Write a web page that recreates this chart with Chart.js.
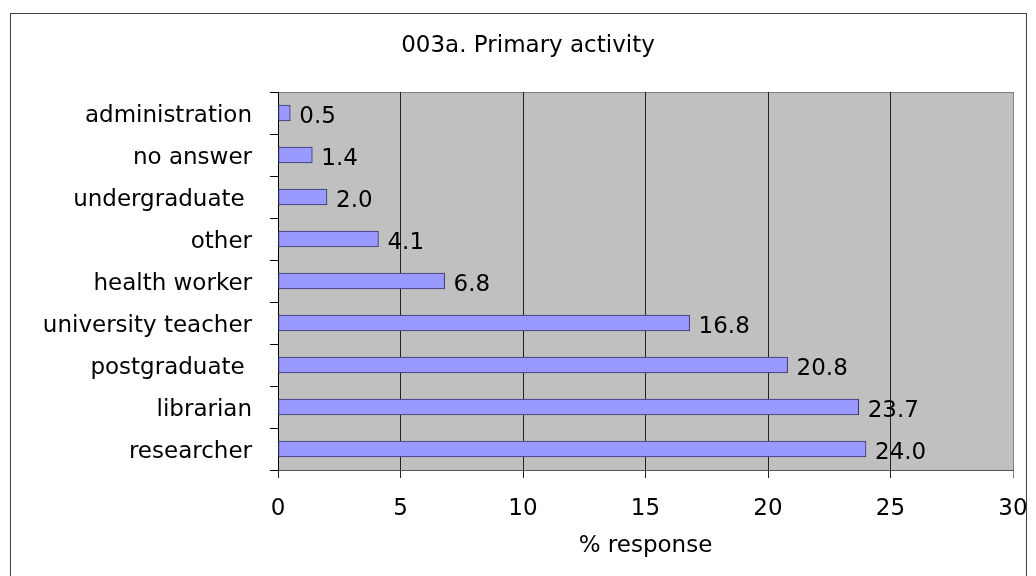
<!DOCTYPE html>
<html>
<head>
<meta charset="utf-8">
<script src="https://cdn.jsdelivr.net/npm/chart.js@4"></script>
<style>
  html, body { margin: 0; padding: 0; background: #fff; }
</style>
</head>
<body>
<canvas id="actividadChart" width="1036" height="576"></canvas>
<script>
// --- DATOS ---
const categorias = ['administration', 'no answer', 'undergraduate ', 'other', 'health worker',
                    'university teacher', 'postgraduate ', 'librarian', 'researcher'];
const porcentajes = [0.5, 1.4, 2.0, 4.1, 6.8, 16.8, 20.8, 23.7, 24.0];
const ticksX = [0, 5, 10, 15, 20, 25, 30];
const titulo = '003a. Primary activity';
const tituloEje = '% response';

const fuente = '23px "DejaVu Sans", Verdana, sans-serif';
Chart.defaults.font.family = '"DejaVu Sans", Verdana, sans-serif';
Chart.defaults.font.size = 23;
Chart.defaults.color = '#000';

// --- FONDO, MARCO Y TITULO ---
const fondo = {
    id: 'fondo',
    beforeDraw(chart) {
        const { ctx, chartArea: a } = chart;
        ctx.save();
        ctx.fillStyle = '#fff';
        ctx.fillRect(0, 0, chart.width, chart.height);
        ctx.strokeStyle = '#404040';
        ctx.lineWidth = 1;
        ctx.strokeRect(10.5, 13.5, 1016, 700);
        ctx.fillStyle = '#c0c0c0';
        ctx.fillRect(a.left, a.top, a.right - a.left, a.bottom - a.top);
        ctx.strokeStyle = '#808080';
        ctx.beginPath();
        ctx.moveTo(a.left, a.top + 0.5);
        ctx.lineTo(a.right, a.top + 0.5);
        ctx.stroke();
        ctx.fillStyle = '#000';
        ctx.font = fuente;
        ctx.textAlign = 'center';
        ctx.textBaseline = 'middle';
        ctx.fillText(titulo, 528, 46);
        ctx.restore();
    },
    // etiquetas de valor a la derecha de cada barra
    afterDatasetsDraw(chart) {
        const { ctx } = chart;
        ctx.save();
        ctx.fillStyle = '#000';
        ctx.font = fuente;
        ctx.textAlign = 'left';
        ctx.textBaseline = 'middle';
        chart.getDatasetMeta(0).data.forEach((bar, i) => {
            ctx.fillText(porcentajes[i].toFixed(1), bar.x + 9, bar.y + 4);
        });
        ctx.restore();
    }
};

new Chart(document.getElementById('actividadChart'), {
    type: 'bar',
    data: {
        labels: categorias,
        datasets: [{
            data: porcentajes,
            backgroundColor: '#9999ff',
            borderColor: '#333366',
            borderWidth: 1,
            borderSkipped: false,
            barThickness: 16
        }]
    },
    options: {
        indexAxis: 'y',
        responsive: false,
        animation: false,
        layout: { padding: { top: 92, right: 23, left: 0, bottom: 0 } },
        plugins: { legend: { display: false }, tooltip: { enabled: false } },
        scales: {
            x: {
                min: 0, max: 30,
                afterFit: s => { s.height = 106; s.paddingLeft = 0; s.paddingRight = 0; },
                afterBuildTicks: s => { s.ticks = ticksX.map(v => ({ value: v })); },
                grid: {
                    color: c => c.tick && c.tick.value === 30 ? '#808080' : '#222',
                    tickLength: 8
                },
                border: { color: '#555' },
                ticks: { padding: 17, maxRotation: 0 },
                title: { display: true, text: tituloEje, padding: { top: 0, bottom: 16 } }
            },
            y: {
                afterFit: s => { s.width = 278; },
                grid: { offset: true, drawOnChartArea: false, tickLength: 8, color: '#000' },
                border: { color: '#000' },
                ticks: { padding: 18, labelOffset: 3 }
            }
        }
    },
    plugins: [fondo]
});
</script>
</body>
</html>
